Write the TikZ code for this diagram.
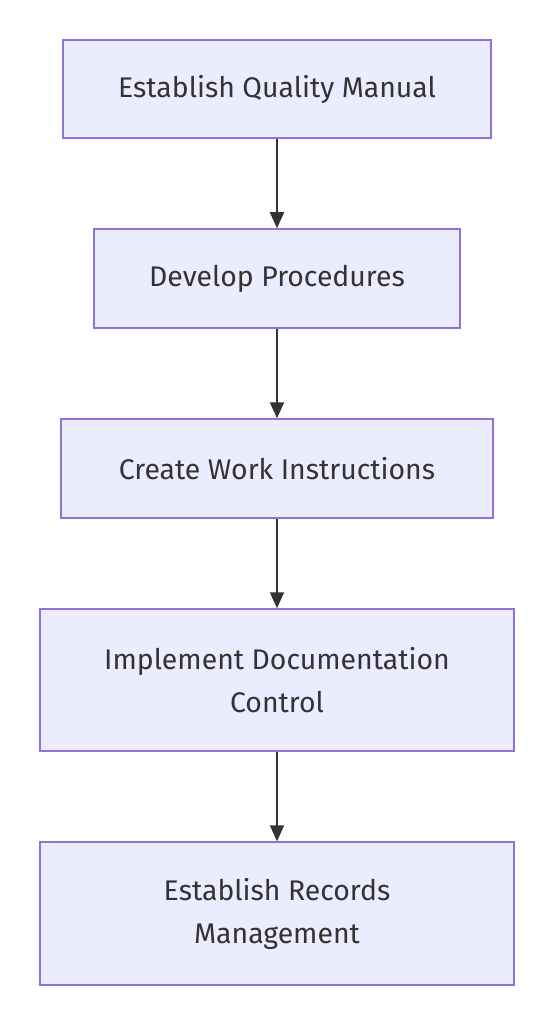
\documentclass[tikz,border=0pt]{standalone}
\usepackage{fontspec}
\setmainfont{Fira Sans}
\usetikzlibrary{arrows.meta}
\definecolor{boxfill}{HTML}{ECECFF}
\definecolor{boxline}{HTML}{9370DB}
\definecolor{txt}{HTML}{333333}
\tikzset{
  stepbox/.style={draw=boxline, fill=boxfill, line width=1.5pt, text=txt, align=center,
    font=\fontsize{28.4}{43}\selectfont, inner sep=0pt},
  conn/.style={draw=txt, line width=2pt, -{Triangle[length=16pt,width=14pt]}}
}
\begin{document}
\begin{tikzpicture}[x=1pt,y=-1pt]
\useasboundingbox (0,0) rectangle (553,1024);
\node[stepbox, minimum width=428pt, minimum height=98pt] (a) at (277,89) {Establish Quality Manual};
\node[stepbox, minimum width=366pt, minimum height=99pt] (b) at (277,278.5) {Develop Procedures};
\node[stepbox, minimum width=432pt, minimum height=99pt] (c) at (277,468.5) {Create Work Instructions};
\node[stepbox, minimum width=474pt, minimum height=142pt] (d) at (277,680) {Implement Documentation\\Control};
\node[stepbox, minimum width=474pt, minimum height=143pt] (e) at (277,913.5) {Establish Records\\Management};
\draw[conn] (a) -- (b);
\draw[conn] (b) -- (c);
\draw[conn] (c) -- (d);
\draw[conn] (d) -- (e);
\end{tikzpicture}
\end{document}
